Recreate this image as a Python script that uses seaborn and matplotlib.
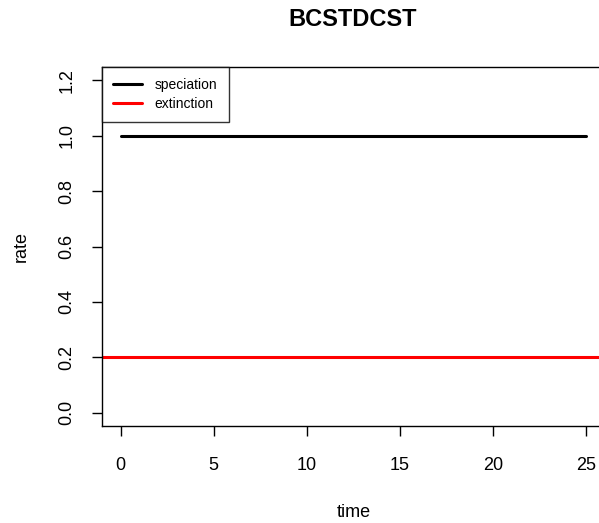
import pandas as pd
import seaborn as sns
import matplotlib.pyplot as plt

# valores
tempo = [0, 25]
especiacao = [1.0, 1.0]
extincao = 0.2
xticks = [0, 5, 10, 15, 20, 25]
yticks = [0.0, 0.2, 0.4, 0.6, 0.8, 1.0, 1.2]

dados = pd.DataFrame({'time': tempo, 'rate': especiacao})

sns.set_style('white')
plt.rcParams['font.family'] = ['Liberation Sans', 'DejaVu Sans']
plt.rcParams['text.color'] = 'black'
plt.rcParams['axes.labelcolor'] = 'black'

fig = plt.figure(figsize=(5.99, 5.23), dpi=100)
ax = fig.add_axes([102 / 599, 1 - 426 / 523, 503 / 599, 359 / 523])

sns.lineplot(data=dados, x='time', y='rate', color='black', linewidth=2.2, ax=ax, label='speciation')
ax.axhline(extincao, color='red', linewidth=2.2, label='extinction')

ax.set_xlim(-1, 26)
ax.set_ylim(-0.048, 1.248)
ax.set_xticks(xticks)
ax.set_xticklabels([str(t) for t in xticks])
ax.set_yticks(yticks)
ax.set_yticklabels([f'{t:.1f}' for t in yticks], rotation=90, va='center')
ax.tick_params(bottom=True, left=True, direction='out', length=7, width=1,
               labelsize=13, colors='black')
ax.tick_params(axis='x', pad=15)
ax.tick_params(axis='y', pad=12)

for s in ax.spines.values():
    s.set_color('black')
    s.set_linewidth(1)

ax.set_xlabel('time', fontsize=13, labelpad=22)
ax.set_ylabel('rate', fontsize=13, labelpad=21)
fig.text(353 / 599, 1 - 19 / 523, 'BCSTDCST', ha='center', va='center', fontsize=17, fontweight='bold')

leg = ax.legend(loc='upper left', fontsize=10, frameon=True, fancybox=False, borderaxespad=0,
                handlelength=2.1, handletextpad=0.9, borderpad=0.8, labelspacing=0.35)
leg.get_frame().set_edgecolor('black')
leg.get_frame().set_linewidth(1)

fig.savefig('out.png', dpi=100)
